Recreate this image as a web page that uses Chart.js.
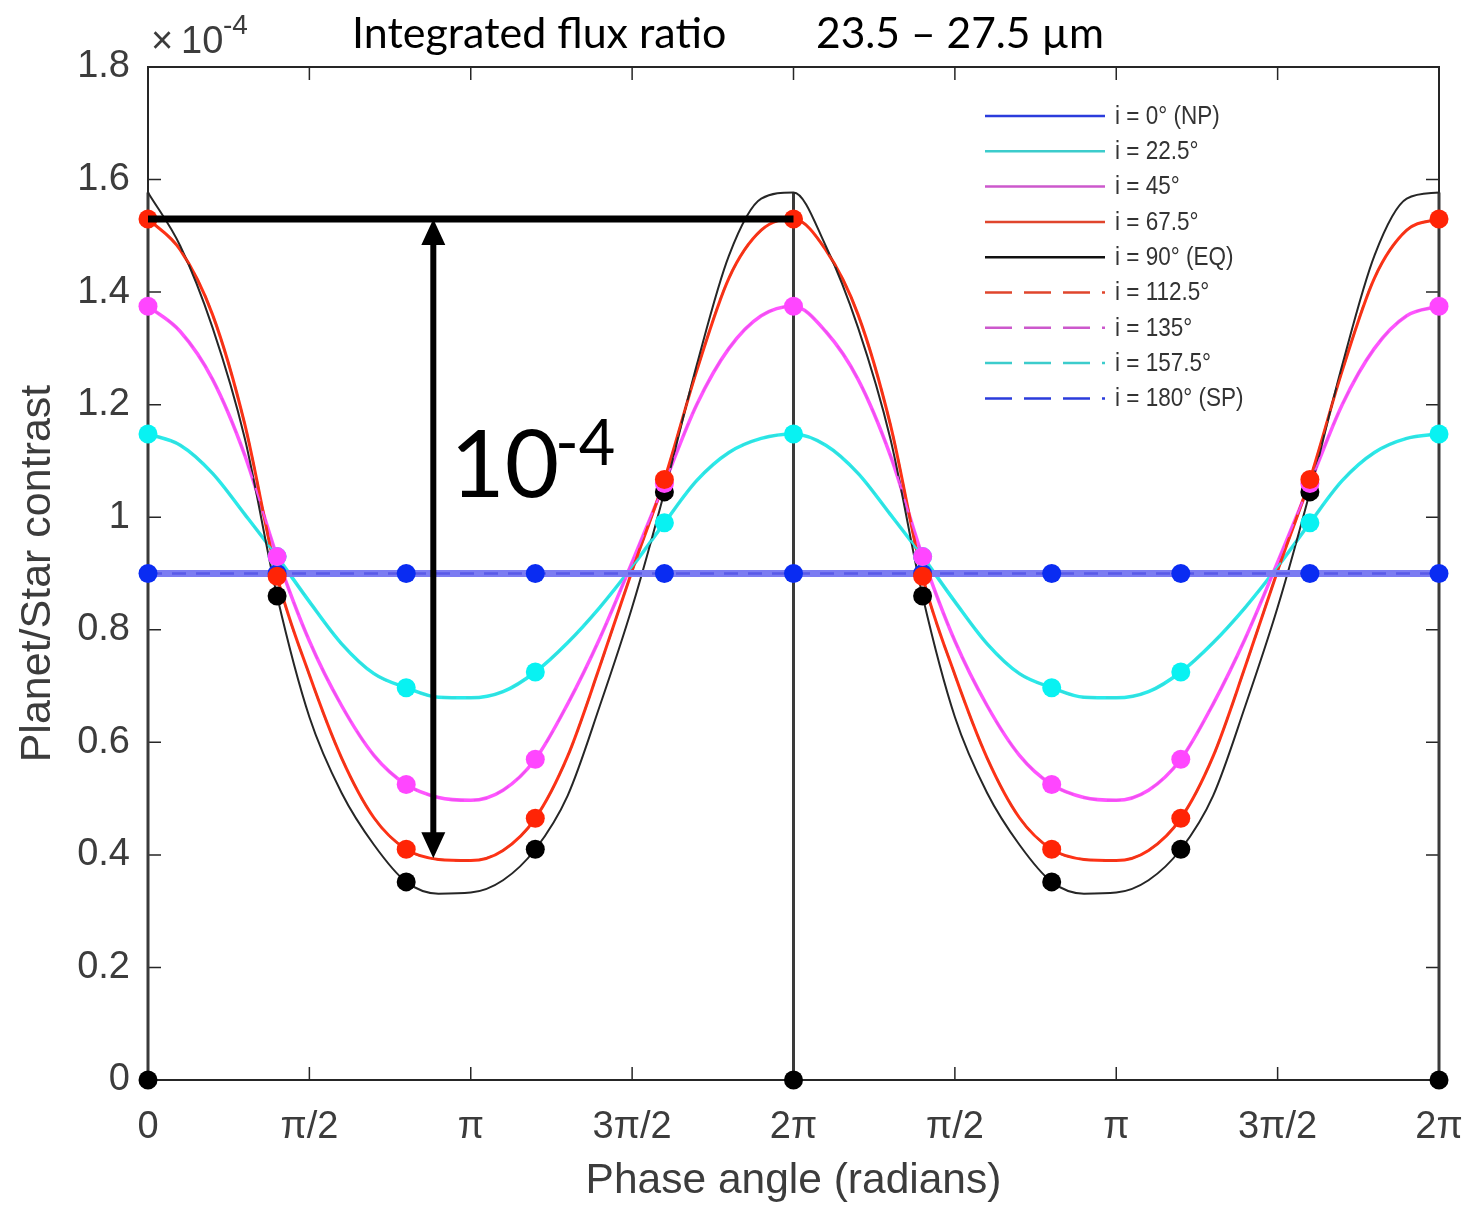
<!DOCTYPE html>
<html>
<head>
<meta charset="utf-8">
<script src="https://cdn.jsdelivr.net/npm/chart.js@4.4.0/dist/chart.umd.min.js"></script>
<style>
  html, body { margin: 0; padding: 0; background: #fff; }
</style>
</head>
<body>
<canvas id="fluxChart" width="1468" height="1207"></canvas>
<script>
// phase in units of pi over one orbit; the figure shows the same orbit twice
var phase = [0, 0.1, 0.2, 0.3, 0.4, 0.5, 0.6, 0.7, 0.8, 0.9, 1.0, 1.1, 1.2, 1.3, 1.4, 1.5, 1.6, 1.7, 1.8, 1.9, 2.0];

// planet/star contrast (x 1e-4)
var i0  = [0.9, 0.9, 0.9, 0.9, 0.9, 0.9, 0.9, 0.9, 0.9, 0.9, 0.9, 0.9, 0.9, 0.9, 0.9, 0.9, 0.9, 0.9, 0.9, 0.9, 0.9];
var i22 = [1.148, 1.128, 1.078, 1.005, 0.93, 0.85, 0.775, 0.722, 0.697, 0.68, 0.679, 0.69, 0.725, 0.777, 0.84, 0.912, 0.99, 1.065, 1.115, 1.14, 1.148];
var i45 = [1.375, 1.33, 1.245, 1.11, 0.93, 0.78, 0.665, 0.577, 0.525, 0.502, 0.497, 0.515, 0.57, 0.668, 0.785, 0.92, 1.06, 1.2, 1.3, 1.358, 1.375];
var i67 = [1.53, 1.475, 1.36, 1.165, 0.895, 0.72, 0.572, 0.466, 0.41, 0.392, 0.39, 0.408, 0.465, 0.575, 0.735, 0.905, 1.067, 1.26, 1.425, 1.51, 1.53];
var i90 = [1.577, 1.482, 1.337, 1.14, 0.86, 0.645, 0.51, 0.418, 0.352, 0.331, 0.333, 0.355, 0.41, 0.505, 0.665, 0.84, 1.045, 1.27, 1.465, 1.566, 1.577];
// southern inclinations lie on top of their northern mirrors
var i112 = i67, i135 = i45, i157 = i22, i180 = i0;

// the EQ curve drops to zero at these phases
var dropPhase = [0, 2, 4];
var dropTop = [1.577, 1.577, 1.577];

// filled markers, one orbit
var markPhase = [0, 0.4, 0.8, 1.2, 1.6, 2.0];
var m0  = [0.9, 0.9, 0.9, 0.9, 0.9, 0.9];
var m22 = [1.148, 0.93, 0.697, 0.725, 0.99, 1.148];
var m45 = [1.375, 0.93, 0.525, 0.57, 1.06, 1.375];
var m67 = [1.53, 0.895, 0.41, 0.465, 1.067, 1.53];
var m90 = [0, 0.86, 0.352, 0.41, 1.045, 0];

var xTickLabels = ['0', 'π/2', 'π', '3π/2', '2π', 'π/2', 'π', '3π/2', '2π'];
var seriesLabels = ['i = 0° (NP)', 'i = 22.5°', 'i = 45°', 'i = 67.5°', 'i = 90° (EQ)', 'i = 112.5°', 'i = 135°', 'i = 157.5°', 'i = 180° (SP)'];

// annotation: peak level and the arrow showing the 1e-4 swing
var refLevel = 1.53;
var arrowPhase = 0.884, arrowTop = 1.53, arrowBottom = 0.394;

var SANS = "'Liberation Sans', Arial, sans-serif";
var AXCOL = '#3c3c3c';

function twoOrbits(xs, ys) {
  var out = [];
  for (var k = 0; k < xs.length; k++) out.push({ x: xs[k], y: ys[k] });
  for (var k = 1; k < xs.length; k++) out.push({ x: xs[k] + 2, y: ys[k] });
  return out;
}

function dropData() {
  var out = [];
  for (var k = 0; k < dropPhase.length; k++) {
    out.push({ x: dropPhase[k], y: 0 }, { x: dropPhase[k], y: dropTop[k] }, { x: dropPhase[k], y: null });
  }
  return out;
}

function curve(label, ys, color, width, dash, order) {
  return {
    label: label, data: twoOrbits(phase, ys), borderColor: color, borderWidth: width,
    borderDash: dash || [], pointRadius: 0, cubicInterpolationMode: 'monotone',
    fill: false, order: order, clip: false
  };
}

function marks(ys, color, order) {
  return {
    label: 'markers', data: twoOrbits(markPhase, ys), showLine: false, pointRadius: 9.5,
    pointBorderWidth: 0, pointBackgroundColor: color, pointHoverRadius: 9.5, order: order, clip: false
  };
}

var legendStyle = [
  { color: '#2b3cdc', dash: [] }, { color: '#3ccccc', dash: [] }, { color: '#cc58cc', dash: [] },
  { color: '#e0452c', dash: [] }, { color: '#111111', dash: [] },
  { color: '#e0452c', dash: [27, 12] }, { color: '#cc58cc', dash: [27, 12] },
  { color: '#3ccccc', dash: [27, 12] }, { color: '#2b3cdc', dash: [27, 12] }
];

var frame = {
  id: 'frame',
  beforeDatasetsDraw: function (chart) {
    var ctx = chart.ctx, a = chart.chartArea, x = chart.scales.x, y = chart.scales.y;
    ctx.save();
    ctx.strokeStyle = '#262626';
    ctx.lineWidth = 2;
    ctx.strokeRect(a.left, a.top, a.right - a.left, a.bottom - a.top);
    ctx.lineWidth = 1.5;
    ctx.beginPath();
    x.ticks.forEach(function (t) {
      var px = x.getPixelForValue(t.value);
      ctx.moveTo(px, a.bottom); ctx.lineTo(px, a.bottom - 13);
      ctx.moveTo(px, a.top); ctx.lineTo(px, a.top + 13);
    });
    y.ticks.forEach(function (t) {
      var py = y.getPixelForValue(t.value);
      ctx.moveTo(a.left, py); ctx.lineTo(a.left + 13, py);
      ctx.moveTo(a.right, py); ctx.lineTo(a.right - 13, py);
    });
    ctx.stroke();
    ctx.restore();
  },
  afterDatasetsDraw: function (chart) {
    var ctx = chart.ctx, x = chart.scales.x, y = chart.scales.y;
    ctx.save();
    // peak level line
    var yl = y.getPixelForValue(refLevel);
    ctx.strokeStyle = '#000';
    ctx.lineWidth = 7;
    ctx.beginPath();
    ctx.moveTo(x.getPixelForValue(0), yl);
    ctx.lineTo(x.getPixelForValue(2), yl);
    ctx.stroke();
    // double arrow
    var ax = x.getPixelForValue(arrowPhase);
    var y1 = y.getPixelForValue(arrowTop), y2 = y.getPixelForValue(arrowBottom);
    ctx.lineWidth = 6;
    ctx.beginPath();
    ctx.moveTo(ax, y1 + 20); ctx.lineTo(ax, y2 - 20);
    ctx.stroke();
    ctx.fillStyle = '#000';
    ctx.beginPath();
    ctx.moveTo(ax, y1); ctx.lineTo(ax - 12, y1 + 26); ctx.lineTo(ax + 12, y1 + 26); ctx.closePath();
    ctx.moveTo(ax, y2); ctx.lineTo(ax - 12, y2 - 26); ctx.lineTo(ax + 12, y2 - 26); ctx.closePath();
    ctx.fill();
    ctx.textBaseline = 'alphabetic';
    ctx.textAlign = 'left';
    ctx.font = '94px Lato';
    ctx.fillText('10', ax + 17, 497);
    ctx.font = '63px Lato';
    ctx.fillText('-4', ax + 122, 465);

    // title
    ctx.font = '43px Lato';
    ctx.fillText('Integrated flux ratio', 352, 48, 388);
    ctx.fillText('23.5 – 27.5 µm', 816, 48, 288);

    // axis exponent
    ctx.fillStyle = AXCOL;
    ctx.font = '38px ' + SANS;
    ctx.fillText('×', 151, 53, 24);
    ctx.fillText('10', 181, 53, 44);
    ctx.font = '28px ' + SANS;
    ctx.fillText('-4', 223, 34, 28);

    // legend
    ctx.font = '25px ' + SANS;
    ctx.textBaseline = 'middle';
    for (var k = 0; k < seriesLabels.length; k++) {
      var ry = 116 + k * 35.3;
      ctx.strokeStyle = legendStyle[k].color;
      ctx.lineWidth = 2.5;
      ctx.setLineDash(legendStyle[k].dash);
      ctx.beginPath();
      ctx.moveTo(985, ry); ctx.lineTo(1105, ry);
      ctx.stroke();
      ctx.setLineDash([]);
      ctx.fillStyle = '#333';
      ctx.fillText(seriesLabels[k], 1115, ry + 1, ctx.measureText(seriesLabels[k]).width * 0.9);
    }
    ctx.restore();
  }
};

var datasets = [
  marks(m67, '#ff2406', 0),
  marks(m45, '#ff46ff', 1),
  marks(m22, '#08f2f2', 2),
  marks(m90, '#000000', 3),
  marks(m0, '#0a2cf2', 4),
  curve(seriesLabels[8], i180, '#5a5ae8', 2.5, [14, 10], 10),
  curve(seriesLabels[0], i0, '#7c7cf2', 7, null, 11),
  curve(seriesLabels[7], i157, '#30dede', 2, [14, 10], 12),
  curve(seriesLabels[6], i135, '#f050f0', 2, [14, 10], 13),
  curve(seriesLabels[5], i112, '#f03418', 2, [14, 10], 14),
  curve(seriesLabels[4], i90, '#262626', 2, null, 15),
  { label: 'drop', data: dropData(), borderColor: '#3a3a3a', borderWidth: 3, pointRadius: 0, spanGaps: false, order: 15, clip: false },
  curve(seriesLabels[3], i67, '#ff3216', 3, null, 16),
  curve(seriesLabels[2], i45, '#ff55ff', 3.5, null, 17),
  curve(seriesLabels[1], i22, '#2aeaea', 3.5, null, 18)
];

new Chart(document.getElementById('fluxChart'), {
  type: 'line',
  data: { datasets: datasets },
  options: {
    responsive: false,
    devicePixelRatio: 1,
    animation: false,
    layout: { padding: { top: 67, right: 29, left: 0, bottom: 0 } },
    plugins: { legend: { display: false }, title: { display: false }, tooltip: { enabled: false } },
    scales: {
      x: {
        type: 'linear', min: 0, max: 4,
        grid: { display: false }, border: { display: false },
        ticks: {
          stepSize: 0.5, color: AXCOL, padding: 17, maxRotation: 0,
          font: { family: SANS, size: 38 },
          callback: function (v, idx) { return xTickLabels[idx]; }
        },
        title: { display: true, text: 'Phase angle (radians)', color: AXCOL, font: { family: SANS, size: 42.5 }, padding: { top: 0, bottom: 0 } },
        afterFit: function (s) { s.height = 127; s.paddingLeft = 0; s.paddingRight = 0; }
      },
      y: {
        type: 'linear', min: 0, max: 1.8,
        grid: { display: false }, border: { display: false },
        ticks: {
          stepSize: 0.2, color: AXCOL, padding: 10, font: { family: SANS, size: 38 },
          callback: function (v) { return String(Math.round(v * 10) / 10); }
        },
        title: { display: true, text: 'Planet/Star contrast', color: AXCOL, font: { family: SANS, size: 43 }, padding: { top: 12, bottom: 0 } },
        afterFit: function (s) { s.width = 148; }
      }
    }
  },
  plugins: [frame]
});
</script>
</body>
</html>
